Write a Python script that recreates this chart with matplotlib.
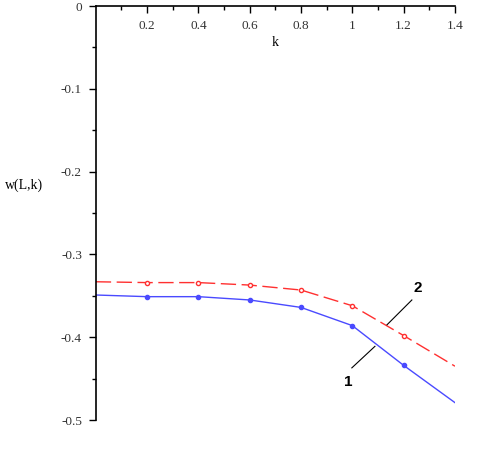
import numpy as np
import matplotlib.pyplot as plt

# values
k = [0.0, 0.2, 0.4, 0.6, 0.8, 1.0, 1.2, 1.4]
w1 = [-0.349, -0.351, -0.351, -0.355, -0.364, -0.386, -0.434, -0.479]
w2 = [-0.333, -0.334, -0.334, -0.337, -0.343, -0.362, -0.398, -0.435]
xticks = [0.2, 0.4, 0.6, 0.8, 1.0, 1.2, 1.4]
xticklabels = ["0.2", "0.4", "0.6", "0.8", "1", "1.2", "1.4"]
yticks = [0.0, -0.1, -0.2, -0.3, -0.4, -0.5]
yticklabels = ["0", "-0.1", "-0.2", "-0.3", "-0.4", "-0.5"]

plt.rcParams['font.family'] = ['Liberation Serif', 'DejaVu Serif']

fig = plt.figure(figsize=(4.84, 4.67), dpi=100)
ax = fig.add_axes([0.198, 0.1006, 0.742, 0.8864])

ax.plot(k, w1, color="#4a4aff", lw=1.0, marker="o", ms=3,
        markevery=list(range(1, 7)))
ax.plot(k, w2, color="#ff3030", lw=1.0, ls=(0, (11, 4)), marker="o", ms=3,
        mfc="white", markevery=list(range(1, 7)))

ax.set_xlim(0, 1.4)
ax.set_ylim(-0.5, 0)

ax.spines['top'].set_visible(False)
ax.spines['right'].set_visible(False)
ax.spines['bottom'].set_position(('data', 0))
ax.spines['left'].set_position(('data', 0))
for s in ['bottom', 'left']:
    ax.spines[s].set_linewidth(1.2)

ax.set_xticks(xticks)
ax.set_xticklabels(xticklabels)
ax.set_xticks(np.arange(0.1, 1.41, 0.2), minor=True)
ax.set_yticks(yticks)
ax.set_yticklabels(yticklabels)
ax.set_yticks(np.arange(-0.45, 0, 0.1), minor=True)
ax.tick_params(which='major', length=5, width=1, labelsize=9.5, pad=5)
ax.tick_params(which='minor', length=3, width=1)
ax.tick_params(axis='both', colors='black', labelcolor="#333333")

ax.text(0.7, -0.0435, "k", ha="center", va="center", fontsize=10)
ax.text(-0.28, -0.217, "w(L,k)", ha="center", va="center", fontsize=10,
        clip_on=False)

# curve labels
ax.plot([0.998, 1.088], [-0.437, -0.411], color="black", lw=0.8)
ax.plot([1.232, 1.135], [-0.355, -0.385], color="black", lw=0.8)
ax.text(0.983, -0.454, "1", ha="center", va="center", fontsize=11,
        fontweight="bold", family="Liberation Sans")
ax.text(1.256, -0.341, "2", ha="center", va="center", fontsize=11,
        fontweight="bold", family="Liberation Sans")

fig.savefig("out.png")
